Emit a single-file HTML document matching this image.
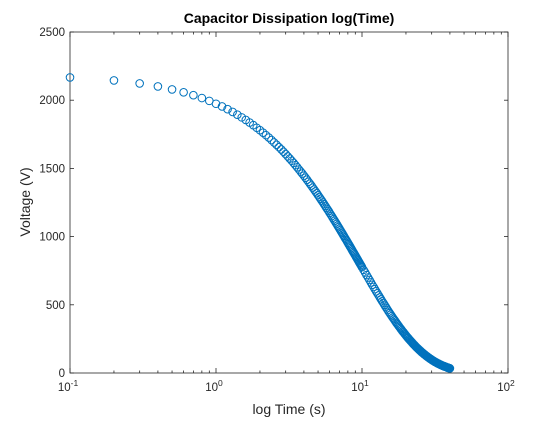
<!DOCTYPE html>
<html><head><meta charset="utf-8"><style>
body{margin:0;background:#fff;}
svg text{font-family:"Liberation Sans",Arial,sans-serif;fill:#262626;}
</style></head><body>
<svg id="chart" width="560" height="420" xmlns="http://www.w3.org/2000/svg">
<rect x="0" y="0" width="560" height="420" fill="#fff"/>
<rect x="70" y="32" width="438" height="341" fill="#fff" stroke="#262626" stroke-width="0.8"/>
<g id="axes"></g>
<g id="marks"></g>
<text x="289" y="23" text-anchor="middle" font-size="14" font-weight="bold" style="fill:#000">Capacitor Dissipation log(Time)</text>
<text x="289" y="414" text-anchor="middle" font-size="14">log Time (s)</text>
<text transform="translate(30,202) rotate(-90)" text-anchor="middle" font-size="14">Voltage (V)</text>
</svg>
<script>
const times=[0.1,0.2,0.3,0.4,0.5,0.6,0.7,0.8,0.9,1.0,1.1,1.2,1.3,1.4,1.5,1.6,1.7,1.8,1.9,2.0,2.1,2.2,2.3,2.4,2.5,2.6,2.7,2.8,2.9,3.0,
3.1,3.2,3.3,3.4,3.5,3.6,3.7,3.8,3.9,4.0,4.1,4.2,4.3,4.4,4.5,4.6,4.7,4.8,4.9,5.0,5.1,5.2,5.3,5.4,5.5,5.6,5.7,5.8,5.9,6.0,6.1,6.2,6.3,6.4,6.5,6.6,6.7,6.8,6.9,7.0,7.1,7.2,7.3,7.4,7.5,7.6,7.7,7.8,7.9,8.0,8.1,8.2,8.3,8.4,8.5,8.6,8.7,8.8,8.9,9.0,9.1,9.2,9.3,9.4,9.5,9.6,9.7,9.8,9.9,10.0,
10.25,10.5,10.75,11,11.25,11.5,11.75,12,12.25,12.5,12.75,13,13.25,13.5,13.75,14,14.25,14.5,14.75,15,15.25,15.5,15.75,16,16.25,16.5,16.75,17,17.25,17.5,17.75,18,18.25,18.5,18.75,19,19.25,19.5,19.75,20,
20.25,20.5,20.75,21,21.25,21.5,21.75,22,22.25,22.5,22.75,23,23.25,23.5,23.75,24,24.25,24.5,24.75,25,25.25,25.5,25.75,26,26.25,26.5,26.75,27,27.25,27.5,27.75,28,28.25,28.5,28.75,29,29.25,29.5,29.75,30,
30.25,30.5,30.75,31,31.25,31.5,31.75,32,32.25,32.5,32.75,33,33.25,33.5,33.75,34,34.25,34.5,34.75,35,35.25,35.5,35.75,36,36.25,36.5,36.75,37,37.25,37.5,37.75,38,38.25,38.5,38.75,39,39.25,39.5,39.75,40];
const voltages=[2167,2145,2123,2101,2079,2058,2037,2016,1995,1974,1954,1934,1914,1894,1874,1855,1836,1817,1798,1780,1762,1744,1726,1708,1690,1673,1656,1639,1622,1605,
1588,1572,1556,1540,1524,1508,1492,1477,1462,1447,1432,1417,1402,1388,1374,1359,1345,1331,1318,1304,1290,1277,1264,1251,1238,1225,1212,1200,1188,1175,1163,1151,1139,1127,1116,1104,1093,1081,1070,1059,1048,1037,1027,1016,1006,995,985,975,965,955,945,935,926,916,907,897,888,879,870,861,852,843,835,826,817,809,801,792,784,776,
756,737,718,700,682,664,647,631,615,599,584,569,554,540,526,513,500,487,474,462,450,439,428,417,406,396,386,376,366,357,348,339,330,322,313,305,298,290,283,275,
268,261,255,248,242,236,230,224,218,212,207,202,196,191,186,182,177,173,168,164,160,155,151,148,144,140,137,133,130,126,123,120,117,114,111,108,105,103,100,97,
95,92,90,88,85,83,81,79,77,75,73,71,69,68,66,64,63,61,59,58,56,55,53,52,51,50,48,47,46,45,44,43,41,40,39,38,37,36,35,34];
const yTicks=[0,500,1000,1500,2000,2500];
const xDecades=[-1,0,1,2];

const X0=70,X1=508,Y0=373,Y1=32;
function xs(t){return X0+(Math.log10(t)+1)/3*(X1-X0);}
function ys(v){return Y0-v/2500*(Y0-Y1);}
const NS="http://www.w3.org/2000/svg";
const axes=document.getElementById('axes');
function line(x1,y1,x2,y2,name){const l=document.createElementNS(NS,'line');
l.setAttribute('x1',x1);l.setAttribute('y1',y1);l.setAttribute('x2',x2);l.setAttribute('y2',y2);
l.setAttribute('stroke','#262626');l.setAttribute('stroke-width','0.8');


axes.appendChild(l);}
yTicks.forEach(v=>{const y=ys(v);line(X0,y,X0+4,y,'y-tick');line(X1,y,X1-4,y,'y-tick');
const t=document.createElementNS(NS,'text');t.setAttribute('x',X0-5);t.setAttribute('y',y+4);t.setAttribute('text-anchor','end');t.setAttribute('font-size','11.5');t.textContent=v;


axes.appendChild(t);});
xDecades.forEach((d,i)=>{const x=xs(Math.pow(10,d));line(x,Y0,x,Y0-5,'x-tick');line(x,Y1,x,Y1+5,'x-tick');
if(i<xDecades.length-1){for(let m=2;m<10;m++){const xm=xs(m*Math.pow(10,d));line(xm,Y0,xm,Y0-2.5,'x-minor-tick');line(xm,Y1,xm,Y1+2.5,'x-minor-tick');}}
const t=document.createElementNS(NS,'text');t.setAttribute('x',x-2);t.setAttribute('y',Y0+18);t.setAttribute('text-anchor','middle');t.setAttribute('font-size','11.5');
t.innerHTML='10<tspan dy="-5" font-size="8.5">'+d+'</tspan>';


axes.appendChild(t);});
const marks=document.getElementById('marks');
times.forEach((t,i)=>{const c=document.createElementNS(NS,'circle');
c.setAttribute('cx',xs(t));c.setAttribute('cy',ys(voltages[i]));c.setAttribute('r','3.8');
c.setAttribute('fill','none');c.setAttribute('stroke','#0072BD');c.setAttribute('stroke-width','1');


marks.appendChild(c);});
</script>
</body></html>
